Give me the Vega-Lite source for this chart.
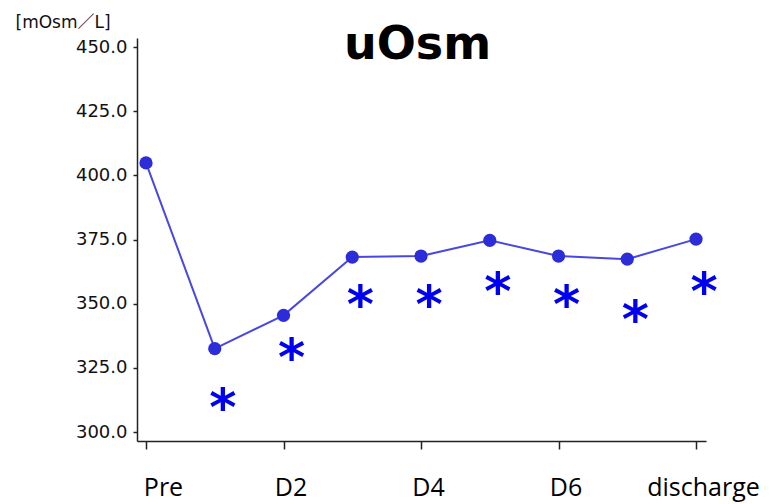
{
  "$schema": "https://vega.github.io/schema/vega-lite/v6.json",
  "autosize": {"type": "none"},
  "width": 569,
  "height": 403,
  "padding": {"left": 137, "top": 38, "right": 68, "bottom": 63},
  "background": "white",
  "config": {"view": {"stroke": null}},
  "title": {
    "text": "uOsm",
    "font": "DejaVu Sans",
    "fontWeight": "bold",
    "fontSize": 46,
    "color": "black",
    "anchor": "middle",
    "baseline": "alphabetic",
    "offset": 0,
    "dy": 92,
    "dx": -4
  },
  "data": {
    "values": [
      {"time": "Pre", "i": 0, "uosm": 404.9},
      {"time": "D1", "i": 1, "uosm": 332.5, "sig": 312.3},
      {"time": "D2", "i": 2, "uosm": 345.5, "sig": 331.8},
      {"time": "D3", "i": 3, "uosm": 368.2, "sig": 352.5},
      {"time": "D4", "i": 4, "uosm": 368.6, "sig": 352.5},
      {"time": "D5", "i": 5, "uosm": 374.7, "sig": 357.8},
      {"time": "D6", "i": 6, "uosm": 368.6, "sig": 352.6},
      {"time": "D7", "i": 7, "uosm": 367.4, "sig": 346.7},
      {"time": "discharge", "i": 8, "uosm": 375.2, "sig": 357.8}
    ]
  },
  "encoding": {
    "x": {
      "field": "i",
      "type": "quantitative",
      "scale": {"domain": [-0.131, 8.145], "nice": false, "zero": false},
      "axis": {
        "title": null,
        "values": [0, 2, 4, 6, 8],
        "labelExpr": "datum.value == 0 ? 'Pre' : datum.value == 8 ? 'discharge' : 'D' + datum.value",
        "grid": false,
        "domainColor": "#222",
        "domainWidth": 1.5,
        "tickColor": "#222",
        "tickWidth": 1.5,
        "tickSize": 8,
        "labelFont": "Open Sans",
        "labelFontSize": 25,
        "labelColor": "black",
        "labelBaseline": "alphabetic",
        "labelPadding": 46,
        "labelAlign": "center",
        "labelOffset": {"condition": {"test": "datum.value == 0", "value": 17}, "value": 7},
        "labelFlush": false,
        "labelOverlap": false
      }
    }
  },
  "layer": [
    {
      "mark": {"type": "line", "color": "#4848e0", "strokeWidth": 2},
      "encoding": {
        "y": {
          "field": "uosm",
          "type": "quantitative",
          "scale": {"domain": [296.5, 453.6], "nice": false, "zero": false},
          "axis": {
            "title": "[mOsm／L]",
            "titleAngle": 0,
            "titleAlign": "left",
            "titleBaseline": "middle",
            "titleX": -122,
            "titleY": -16,
            "titleFont": "DejaVu Sans, Noto Sans CJK JP",
            "titleFontSize": 17,
            "titleFontWeight": "normal",
            "titleColor": "#111",
            "values": [300, 325, 350, 375, 400, 425, 450],
            "format": ".1f",
            "grid": false,
            "domainColor": "#222",
            "domainWidth": 1.5,
            "tickColor": "#222",
            "tickWidth": 1.5,
            "tickSize": 4,
            "labelFont": "DejaVu Sans",
            "labelFontSize": 18,
            "labelColor": "#111",
            "labelPadding": 6,
            "labelBaseline": "middle",
            "labelFlush": false,
            "labelOverlap": false
          }
        }
      }
    },
    {
      "mark": {"type": "point", "filled": true, "color": "#2c2cd8", "size": 175, "opacity": 1},
      "encoding": {"y": {"field": "uosm", "type": "quantitative"}}
    },
    {
      "transform": [{"filter": "isValid(datum.sig)"}],
      "mark": {"type": "text", "text": "*", "font": "DejaVu Sans", "fontWeight": "bold", "fontSize": 52, "color": "#0000f0", "baseline": "alphabetic", "align": "center", "dx": 8, "dy": 25},
      "encoding": {"y": {"field": "sig", "type": "quantitative"}}
    }
  ]
}
